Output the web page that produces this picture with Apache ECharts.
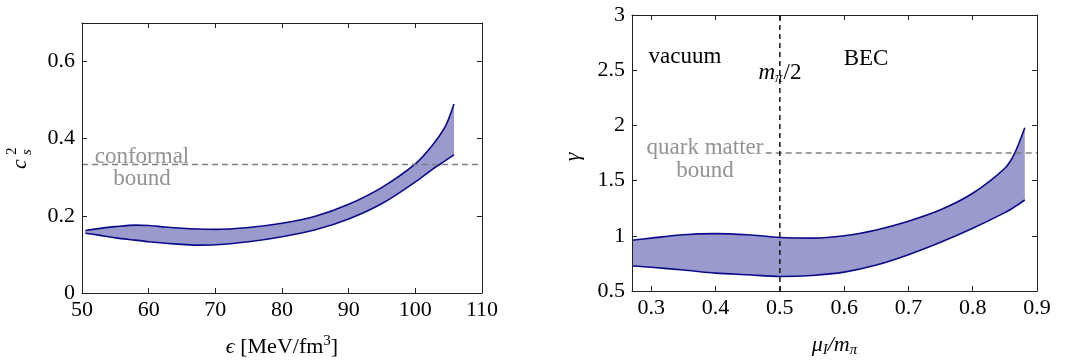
<!DOCTYPE html>
<html>
<head>
<meta charset="utf-8">
<script src="https://cdn.jsdelivr.net/npm/echarts@6/dist/echarts.min.js"></script>
<style>
html,body{margin:0;padding:0;background:#fff;}
#chart{width:1065px;height:363px;}
</style>
</head>
<body>
<div id="chart"></div>
<script>
// ---- Left panel data: speed of sound squared vs energy density ----
var epsilon   = [50.5, 52.5, 55, 58, 60, 62.5, 65, 67.5, 70, 75, 80, 85, 90, 95, 100, 102.5, 104.5, 105.8];
var cs2Upper  = [0.162, 0.167, 0.172, 0.176, 0.175, 0.171, 0.168, 0.166, 0.165, 0.170, 0.181, 0.199, 0.230, 0.274, 0.335, 0.382, 0.432, 0.490];
var cs2Lower  = [0.155, 0.150, 0.143, 0.137, 0.133, 0.129, 0.126, 0.124, 0.125, 0.133, 0.146, 0.164, 0.192, 0.232, 0.288, 0.320, 0.343, 0.358];
var conformalBound = 0.333;
var xTicksL = [50, 60, 70, 80, 90, 100, 110];
var yTicksL = [0, 0.2, 0.4, 0.6];

// ---- Right panel data: gamma vs mu_I / m_pi ----
var muRatio   = [0.27, 0.30, 0.35, 0.40, 0.45, 0.50, 0.55, 0.60, 0.65, 0.70, 0.75, 0.80, 0.85, 0.865, 0.881];
var gammaUpper= [0.959, 0.979, 1.010, 1.020, 1.009, 0.985, 0.979, 1.000, 1.053, 1.132, 1.235, 1.385, 1.612, 1.745, 1.979];
var gammaLower= [0.726, 0.715, 0.690, 0.662, 0.647, 0.632, 0.641, 0.671, 0.735, 0.829, 0.941, 1.068, 1.210, 1.262, 1.324];
var quarkBound = 1.75;
var quarkBoundStart = 0.478;
var halfMpi = 0.5;
var xTicksR = [0.3, 0.4, 0.5, 0.6, 0.7, 0.8, 0.9];
var yTicksR = [0.5, 1, 1.5, 2, 2.5, 3];

function zip(a, b) { return a.map(function (v, i) { return [v, b[i]]; }); }

var FONT = '"Liberation Serif", "DejaVu Serif", serif';
var FS = 22;
var FILL = '#9a9bcc';
var EDGE = '#0b0b8a';
var AXC = '#222';

function xAxes(grid, min, max, ticks, name) {
  return [{
    gridIndex: grid, type: 'value', min: min, max: max, position: 'bottom', z: 10,
    axisLine: { show: true, onZero: false, lineStyle: { color: AXC, width: 1 } },
    axisTick: { show: true, inside: true, length: 5, customValues: ticks, lineStyle: { color: AXC } },
    axisLabel: { show: true, customValues: ticks, color: '#000', fontFamily: FONT, fontSize: FS, margin: 6,
                 formatter: function (v) { return String(v); } },
    splitLine: { show: false },
    name: name, nameLocation: 'middle', nameGap: 41,
    nameTextStyle: { color: '#000', fontFamily: FONT, fontSize: FS,
      rich: {
        i: { fontFamily: FONT, fontSize: FS, fontStyle: 'italic', color: '#000', lineHeight: 26 },
        n: { fontFamily: FONT, fontSize: FS, color: '#000', lineHeight: 26 },
        sub: { fontFamily: FONT, fontSize: 15, fontStyle: 'italic', color: '#000', lineHeight: 12, verticalAlign: 'bottom' },
        sup: { fontFamily: FONT, fontSize: 15, color: '#000', lineHeight: 12, verticalAlign: 'top' }
      } }
  }, {
    gridIndex: grid, type: 'value', min: min, max: max, position: 'top', z: 10,
    axisLine: { show: true, onZero: false, lineStyle: { color: AXC, width: 1 } },
    axisTick: { show: true, inside: true, length: 5, customValues: ticks, lineStyle: { color: AXC } },
    axisLabel: { show: false }, splitLine: { show: false }
  }];
}
function yAxes(grid, min, max, ticks) {
  return [{
    gridIndex: grid, type: 'value', min: min, max: max, position: 'left', z: 10,
    axisLine: { show: true, onZero: false, lineStyle: { color: AXC, width: 1 } },
    axisTick: { show: true, inside: true, length: 5, customValues: ticks, lineStyle: { color: AXC } },
    axisLabel: { show: true, customValues: ticks, color: '#000', fontFamily: FONT, fontSize: FS, margin: 7,
                 formatter: function (v) { return String(v); } },
    splitLine: { show: false }
  }, {
    gridIndex: grid, type: 'value', min: min, max: max, position: 'right', z: 10,
    axisLine: { show: true, onZero: false, lineStyle: { color: AXC, width: 1 } },
    axisTick: { show: true, inside: true, length: 5, customValues: ticks, lineStyle: { color: AXC } },
    axisLabel: { show: false }, splitLine: { show: false }
  }];
}

// Band: filled polygon between the two curves (custom series), plus smooth outline curves
function band(xi, yi, xs, up, lo) {
  return [{
    type: 'custom', xAxisIndex: xi, yAxisIndex: yi, coordinateSystem: 'cartesian2d', z: 2, silent: true, clip: true,
    data: [[xs[0], up[0]]],
    renderItem: function (params, api) {
      var pts = [];
      for (var i = 0; i < xs.length; i++) pts.push(api.coord([xs[i], up[i]]));
      for (var j = xs.length - 1; j >= 0; j--) pts.push(api.coord([xs[j], lo[j]]));
      return { type: 'polygon', shape: { points: pts }, style: { fill: FILL, stroke: null } };
    }
  }, {
    type: 'line', xAxisIndex: xi, yAxisIndex: yi, data: zip(xs, up), smooth: 0.3, symbol: 'none', z: 3,
    lineStyle: { color: EDGE, width: 1.6 }, silent: true
  }, {
    type: 'line', xAxisIndex: xi, yAxisIndex: yi, data: zip(xs, lo), smooth: 0.3, symbol: 'none', z: 3,
    lineStyle: { color: EDGE, width: 1.6 }, silent: true
  }];
}
function dashed(xi, yi, pts, color, dash) {
  return {
    type: 'line', xAxisIndex: xi, yAxisIndex: yi, data: pts, symbol: 'none', z: 5, silent: true,
    lineStyle: { color: color, width: 1.5, type: dash }
  };
}

var chart = echarts.init(document.getElementById('chart'), null, { renderer: 'canvas' });

var series = []
  .concat(band(0, 0, epsilon, cs2Upper, cs2Lower))
  .concat([dashed(0, 0, [[50, conformalBound], [110, conformalBound]], '#7f7f7f', [6, 4])])
  .concat(band(2, 2, muRatio, gammaUpper, gammaLower))
  .concat([dashed(2, 2, [[quarkBoundStart, quarkBound], [0.9, quarkBound]], '#7f7f7f', [6, 4])])
  .concat([dashed(2, 2, [[halfMpi, 0.5], [halfMpi, 3]], '#111', [5, 4])]);

function txt(text, x, y, color, extra) {
  var s = { text: text, x: x, y: y, fill: color, fontFamily: FONT, fontSize: FS + 1, align: 'center', verticalAlign: 'middle' };
  if (extra) for (var k in extra) s[k] = extra[k];
  return { type: 'text', z: 20, style: s };
}

var GRAY = '#939393';
chart.setOption({
  animation: false,
  backgroundColor: '#fff',
  grid: [
    { left: 82, top: 23, width: 400, height: 277 },
    { left: 632, top: 15, width: 405, height: 285 }
  ],
  xAxis: xAxes(0, 50, 110, xTicksL, '{i|ϵ}{n| [MeV/fm}{sup|3}{n|]}')
    .concat(xAxes(1, 0.27, 0.9, xTicksR, '{i|μ}{sub|I}{i|/m}{sub|π}')),
  yAxis: yAxes(0, 0, 0.7, yTicksL).concat(yAxes(1, 0.5, 3, yTicksR)),
  series: series,
  graphic: [
    txt('conformal', 142, 157, GRAY),
    txt('bound', 142, 179, GRAY),
    txt('vacuum', 685, 57, '#000'),
    txt('BEC', 866, 59, '#000'),
    txt('quark matter', 705, 148, GRAY),
    txt('bound', 705, 171, GRAY),
    txt('{i|m}{s|π}{n|/2}', 780, 73, '#000', {
      rich: {
        i: { fontFamily: FONT, fontSize: FS + 1, fontStyle: 'italic', lineHeight: 26 },
        n: { fontFamily: FONT, fontSize: FS + 1, lineHeight: 26 },
        s: { fontFamily: FONT, fontSize: 15, fontStyle: 'italic', lineHeight: 12, verticalAlign: 'bottom', padding: [0, 1, 0, 0] }
      }
    }),
    {
      type: 'group', x: 20, y: 160, rotation: Math.PI / 2, z: 20,
      children: [
        { type: 'text', x: -4, y: 0, style: { text: 'c', fontFamily: FONT, fontSize: FS, fontStyle: 'italic', fill: '#000', align: 'center', verticalAlign: 'middle' } },
        { type: 'text', x: 5, y: -8, style: { text: '2', fontFamily: FONT, fontSize: 15, fill: '#000', align: 'left', verticalAlign: 'middle' } },
        { type: 'text', x: 5, y: 7, style: { text: 's', fontFamily: FONT, fontSize: 15, fontStyle: 'italic', fill: '#000', align: 'left', verticalAlign: 'middle' } }
      ]
    },
    {
      type: 'group', x: 573, y: 157, rotation: Math.PI / 2, z: 20,
      children: [
        { type: 'text', x: 0, y: 0, style: { text: 'γ', fontFamily: FONT, fontSize: FS, fontStyle: 'italic', fill: '#000', align: 'center', verticalAlign: 'middle' } }
      ]
    }
  ]
});
</script>
</body>
</html>
